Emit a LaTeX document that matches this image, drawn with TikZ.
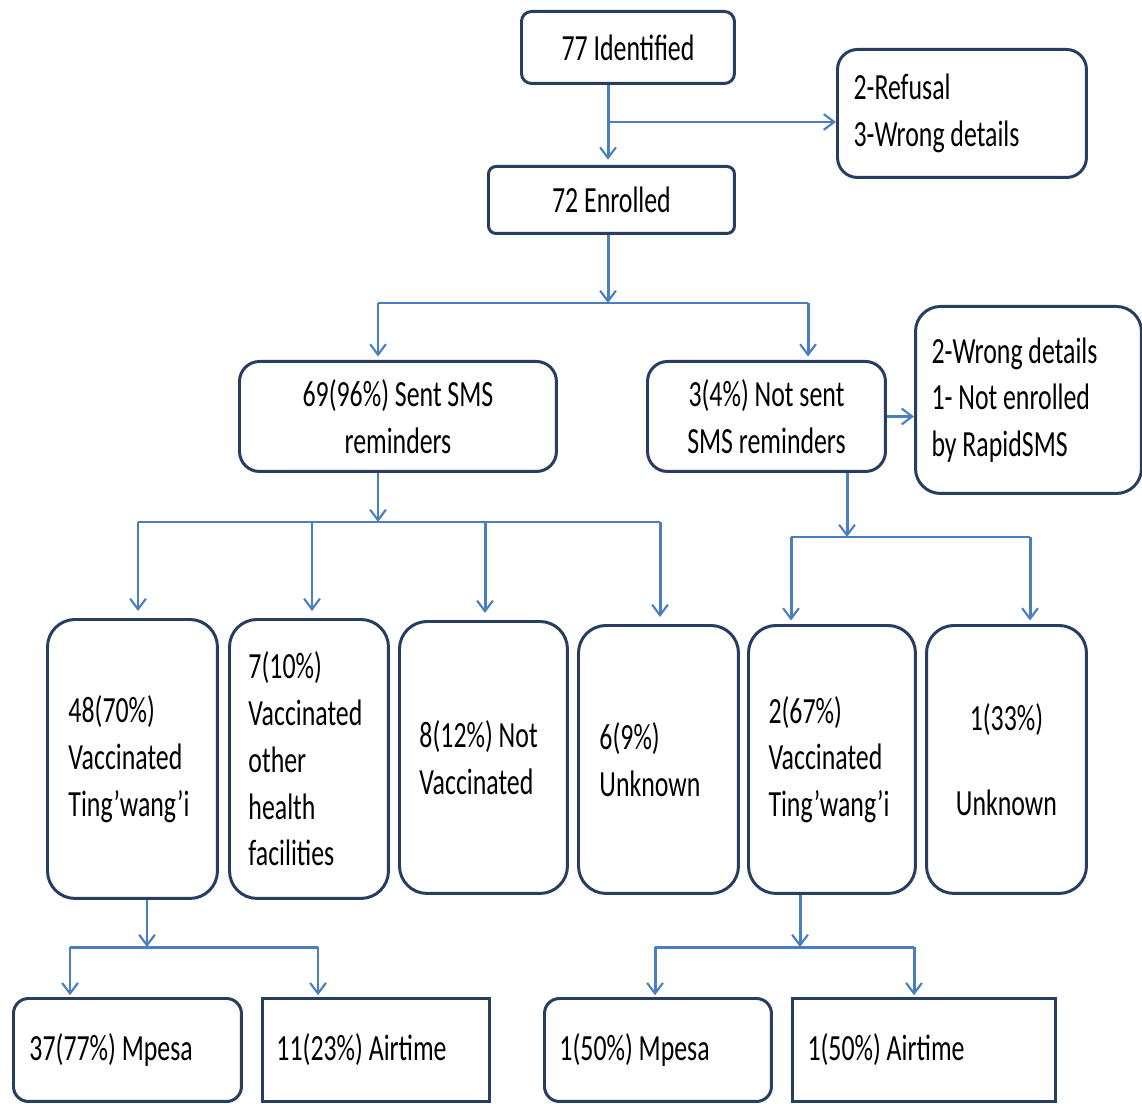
\documentclass[tikz,border=0pt]{standalone}
\usepackage{fontspec}
\setmainfont{Carlito}[FakeStretch=0.7]
\usetikzlibrary{arrows.meta,calc}
\definecolor{boxc}{RGB}{40,62,96}
\definecolor{conc}{RGB}{74,126,190}
\begin{document}
\begin{tikzpicture}[x=0.02cm,y=-0.02cm,
  bx/.style={draw=boxc, line width=1.7pt, fill=white, anchor=north west,
    inner ysep=0pt, font=\fontsize{21}{26.6}\selectfont, text=black},
  conn/.style={draw=conc, line width=1.7pt},
  arr/.style={conn, -{Straight Barb[length=6pt,width=9pt,line width=1.2pt]}}]
\useasboundingbox (0,0) rectangle (1142,1104);
\fill[white] (0,0) rectangle (1142,1104);

% top level
\node[bx, rounded corners=0.2cm, minimum width=4.26cm, minimum height=1.44cm, align=flush center] (n77) at (520,10) {77 Identified};
\node[bx, rounded corners=0.4cm, minimum height=2.56cm, inner xsep=0.32cm, text width=4.34cm, align=flush left] (nref) at (836,48) {2-Refusal\\3-Wrong details};
\node[bx, rounded corners=0.15cm, minimum width=4.92cm, minimum height=1.34cm, align=flush center] (n72) at (487,165) {72 Enrolled};

% second level
\node[bx, rounded corners=0.4cm, minimum height=2.2cm, inner xsep=0.2cm, text width=5.94cm, align=flush center] (n69) at (238,360) {69(96\%) Sent SMS\\reminders};
\node[bx, rounded corners=0.4cm, minimum height=2.2cm, inner xsep=0.2cm, text width=4.36cm, align=flush center] (n3) at (646,360) {3(4\%) Not sent\\SMS reminders};
\node[bx, rounded corners=0.5cm, minimum height=3.74cm, inner xsep=0.32cm, text width=3.88cm, align=flush left] (nwd) at (914,305) {2-Wrong details\\1- Not enrolled\\by RapidSMS};

% third level
\node[bx, rounded corners=0.55cm, minimum height=5.58cm, inner xsep=0.42cm, text width=2.56cm, align=flush left] (la) at (46,618) {48(70\%)\\Vaccinated\\Ting’wang’i};
\node[bx, rounded corners=0.55cm, minimum height=5.58cm, inner xsep=0.38cm, text width=2.42cm, align=flush left] (lb) at (228,618) {7(10\%)\\Vaccinated\\other\\health\\facilities};
\node[bx, rounded corners=0.55cm, minimum height=5.44cm, inner xsep=0.40cm, text width=2.56cm, align=flush left] (lc) at (398,620) {8(12\%) Not\\Vaccinated};
\node[bx, rounded corners=0.55cm, minimum height=5.36cm, inner xsep=0.42cm, text width=2.36cm, align=flush left] (ld) at (577,624) {6(9\%)\\Unknown};
\node[bx, rounded corners=0.55cm, minimum height=5.36cm, inner xsep=0.40cm, text width=2.54cm, align=flush left] (le) at (747,624) {2(67\%)\\Vaccinated\\Ting’wang’i};
\node[bx, rounded corners=0.55cm, minimum height=5.36cm, inner xsep=0.2cm, text width=2.8cm, align=flush center] (lf) at (925,624) {1(33\%)\\[22pt]Unknown};

% bottom level
\node[bx, rounded corners=0.3cm, minimum height=2.06cm, inner xsep=0.32cm, text width=3.92cm, align=flush left] (bp) at (12,997) {37(77\%) Mpesa};
\node[bx, minimum height=2.06cm, inner xsep=0.28cm, text width=3.98cm, align=flush left] (bq) at (261,997) {11(23\%) Airtime};
\node[bx, rounded corners=0.3cm, minimum height=2.06cm, inner xsep=0.30cm, text width=3.94cm, align=flush left] (br) at (543,997) {1(50\%) Mpesa};
\node[bx, minimum height=2.06cm, inner xsep=0.30cm, text width=4.66cm, align=flush left] (bs) at (791,997) {1(50\%) Airtime};

% connectors top
\coordinate (j1) at (608,122);
\draw[conn] (n77.south -| j1) -- (j1);
\draw[arr] (j1) -- ([yshift=3pt]n72.north -| j1);
\draw[arr] (j1) -- (j1 -| nref.west);

\coordinate (j2) at (608,303);
\coordinate (j2l) at (378,303);
\coordinate (j2r) at (808,303);
\draw[arr] (n72.south -| j2) -- (j2);
\draw[conn] (j2l) -- (j2r);
\draw[arr] (j2l) -- ([yshift=2pt]n69.north -| j2l);
\draw[arr] (j2r) -- ([yshift=2pt]n3.north -| j2r);

\draw[arr] (n3.east) -- (n3.east -| nwd.west);

% from 69
\coordinate (j3) at (378,522);
\coordinate (j3a) at (138,522);
\coordinate (j3b) at (312,522);
\coordinate (j3c) at (485,522);
\coordinate (j3d) at (660,522);
\draw[arr] (n69.south -| j3) -- (j3);
\draw[conn] (j3a) -- (j3d);
\draw[arr] (j3a) -- ([yshift=4pt]la.north -| j3a);
\draw[arr] (j3b) -- ([yshift=4pt]lb.north -| j3b);
\draw[arr] (j3c) -- ([yshift=4pt]lc.north -| j3c);
\draw[arr] (j3d) -- ([yshift=4pt]ld.north -| j3d);

% from 3
\coordinate (j4) at (847,537);
\coordinate (j4a) at (791,537);
\coordinate (j4b) at (1030,537);
\draw[arr] (n3.south -| j4) -- (j4);
\draw[conn] (j4a) -- (j4b);
\draw[arr] (j4a) -- ([yshift=2pt]le.north -| j4a);
\draw[arr] (j4b) -- ([yshift=2pt]lf.north -| j4b);

% from 48
\coordinate (j5) at (147,947);
\coordinate (j5a) at (70,947);
\coordinate (j5b) at (318,947);
\draw[arr] (la.south -| j5) -- (j5);
\draw[conn] (j5a) -- (j5b);
\draw[arr] (j5a) -- ([yshift=1pt]bp.north -| j5a);
\draw[arr] (j5b) -- ([yshift=1pt]bq.north -| j5b);

% from 2
\coordinate (j6) at (800,947);
\coordinate (j6a) at (655,947);
\coordinate (j6b) at (914,947);
\draw[arr] (le.south -| j6) -- (j6);
\draw[conn] (j6a) -- (j6b);
\draw[arr] (j6a) -- ([yshift=1pt]br.north -| j6a);
\draw[arr] (j6b) -- ([yshift=1pt]bs.north -| j6b);
\end{tikzpicture}
\end{document}
